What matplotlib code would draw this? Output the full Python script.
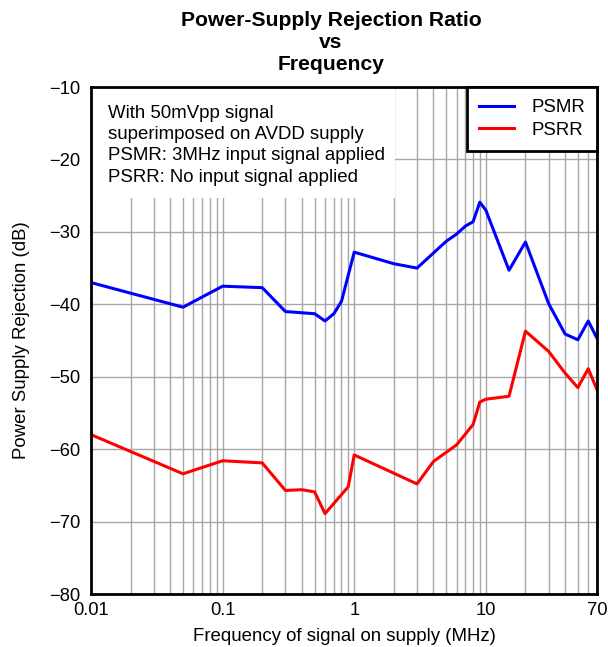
import matplotlib
matplotlib.use("Agg")
import matplotlib.pyplot as plt
from matplotlib.patches import Rectangle
from matplotlib.ticker import FixedLocator, NullFormatter

plt.rcParams['font.family'] = ['Liberation Sans', 'DejaVu Sans']

# Frequency (MHz) and rejection (dB)
psmr_freq = [0.01, 0.05, 0.1, 0.2, 0.3, 0.5, 0.6, 0.7, 0.8, 1.0, 2.0, 3.0, 5.0, 6.0, 7.0, 8.0, 9.0, 10.0, 15.0, 20.0, 30.0, 40.0, 50.0, 60.0, 70.0]
psmr_db = [-37.0, -40.4, -37.5, -37.7, -41.0, -41.3, -42.3, -41.3, -39.6, -32.8, -34.4, -35.0, -31.3, -30.3, -29.2, -28.6, -25.9, -27.0, -35.3, -31.4, -39.9, -44.1, -44.9, -42.3, -44.7]

psrr_freq = [0.01, 0.05, 0.1, 0.2, 0.3, 0.4, 0.5, 0.6, 0.9, 1.0, 3.0, 4.0, 6.0, 8.0, 9.0, 10.0, 15.0, 20.0, 30.0, 40.0, 50.0, 60.0, 70.0]
psrr_db = [-58.0, -63.4, -61.6, -61.9, -65.7, -65.6, -65.9, -68.9, -65.2, -60.8, -64.8, -61.7, -59.4, -56.6, -53.5, -53.1, -52.7, -43.7, -46.5, -49.5, -51.5, -48.9, -51.8]

x_ticks = [0.01, 0.1, 1, 10, 70]
x_ticklabels = ["0.01", "0.1", "1", "10", "70"]
y_ticks = [-80, -70, -60, -50, -40, -30, -20, -10]

note_lines = ["With 50mVpp signal", "superimposed on AVDD supply",
              "PSMR: 3MHz input signal applied", "PSRR: No input signal applied"]

fs = 13.2
fig = plt.figure(figsize=(6.08, 6.47), dpi=100)
ax = fig.add_axes([0.1497, 0.0819, 0.8323, 0.7836])

ax.set_xscale('log')
ax.set_xlim(0.01, 70)
ax.set_ylim(-80, -10)

minor = [m * 10.0 ** e for e in (-2, -1, 0, 1) for m in range(1, 10)]
minor = [v for v in minor if 0.01 < v < 70]
ax.xaxis.set_major_locator(FixedLocator(x_ticks))
ax.set_xticklabels(x_ticklabels)
ax.xaxis.set_minor_locator(FixedLocator(minor))
ax.xaxis.set_minor_formatter(NullFormatter())
ax.set_yticks(y_ticks)
ax.set_yticklabels([f"\u2212{abs(v)}" for v in y_ticks])

ax.grid(True, which='both', axis='x', color='#a6a6a6', linewidth=1.0, zorder=0)
ax.grid(True, which='major', axis='y', color='#a6a6a6', linewidth=1.0, zorder=0)
ax.set_axisbelow(True)
ax.tick_params(axis='both', which='both', length=0, labelsize=fs, colors='black')
ax.tick_params(axis='x', pad=5.5)
ax.tick_params(axis='y', pad=7.5)

for s in ax.spines.values():
    s.set_linewidth(2.0)
    s.set_color('black')
    s.set_zorder(10)

# white background behind the note text
ax.add_patch(Rectangle((0, 0.781), 0.60, 0.219, transform=ax.transAxes,
                       facecolor='white', edgecolor='none', zorder=1.5))
ax.text(0.034, 0.965, "\n".join(note_lines), transform=ax.transAxes,
        fontsize=13.4, va='top', ha='left', linespacing=1.33, zorder=2)

ax.plot(psmr_freq, psmr_db, color='#0000ff', linewidth=2.2, label='PSMR', zorder=3)
ax.plot(psrr_freq, psrr_db, color='#ff0000', linewidth=2.2, label='PSRR', zorder=3)

leg = ax.legend(loc='upper right', fontsize=13.4, frameon=True, fancybox=False,
                edgecolor='black', framealpha=1.0, borderaxespad=0.0,
                handlelength=1.85, handletextpad=0.95, borderpad=0.65,
                labelspacing=0.3)
leg.get_frame().set_linewidth(2.0)
leg.set_zorder(11)

ax.set_xlabel("Frequency of signal on supply (MHz)", fontsize=13.4, labelpad=7)
ax.set_ylabel("Power Supply Rejection (dB)", fontsize=13.4, labelpad=14)

fig.text(331 / 608, 1 - 69.5 / 647, "Power-Supply Rejection Ratio\nvs\nFrequency",
         fontsize=15.2, fontweight='bold', ha='center', va='baseline',
         multialignment='center', linespacing=1.2)

fig.savefig("out.png", dpi=100)
